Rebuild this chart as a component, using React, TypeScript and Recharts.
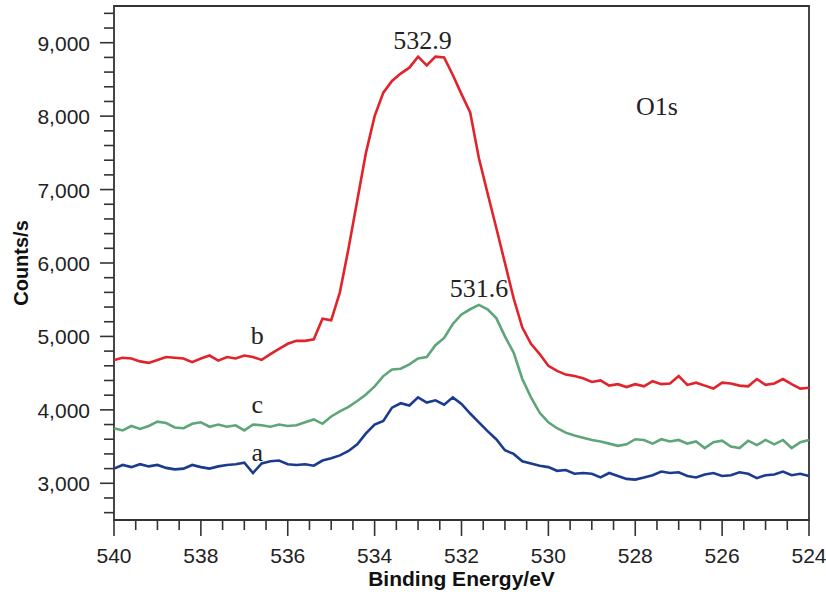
import React from "react";
import { LineChart, Line, XAxis, YAxis, ReferenceArea, ReferenceDot } from "recharts";

// Binding energy grid (eV), high to low as recorded
const energies = [
  540.0, 539.8, 539.6, 539.4, 539.2, 539.0, 538.8, 538.6, 538.4, 538.2,
  538.0, 537.8, 537.6, 537.4, 537.2, 537.0, 536.8, 536.6, 536.4, 536.2,
  536.0, 535.8, 535.6, 535.4, 535.2, 535.0, 534.8, 534.6, 534.4, 534.2,
  534.0, 533.8, 533.6, 533.4, 533.2, 533.0, 532.8, 532.6, 532.4, 532.2,
  532.0, 531.8, 531.6, 531.4, 531.2, 531.0, 530.8, 530.6, 530.4, 530.2,
  530.0, 529.8, 529.6, 529.4, 529.2, 529.0, 528.8, 528.6, 528.4, 528.2,
  528.0, 527.8, 527.6, 527.4, 527.2, 527.0, 526.8, 526.6, 526.4, 526.2,
  526.0, 525.8, 525.6, 525.4, 525.2, 525.0, 524.8, 524.6, 524.4, 524.2,
  524.0,
];

// counts/s for each sample
const countsA = [
  3200, 3250, 3220, 3260, 3230, 3250, 3210, 3190, 3200, 3250,
  3220, 3200, 3230, 3250, 3260, 3280, 3140, 3270, 3300, 3310,
  3260, 3250, 3260, 3240, 3310, 3340, 3380, 3440, 3530, 3680,
  3800, 3850, 4030, 4090, 4060, 4170, 4100, 4130, 4070, 4170,
  4080, 3950, 3830, 3710, 3600, 3450, 3400, 3300, 3270, 3240,
  3220, 3170, 3180, 3130, 3140, 3130, 3080, 3140, 3100, 3060,
  3050, 3080, 3110, 3160, 3140, 3150, 3100, 3080, 3120, 3140,
  3100, 3110, 3150, 3130, 3070, 3110, 3120, 3160, 3110, 3130,
  3100,
];

const countsB = [
  4680, 4710, 4700, 4660, 4640, 4680, 4720, 4710, 4700, 4650,
  4700, 4740, 4670, 4720, 4700, 4740, 4720, 4680, 4760, 4830,
  4900, 4940, 4940, 4960, 5240, 5220, 5600, 6200, 6850, 7500,
  8000, 8320, 8480, 8580, 8660, 8810, 8690, 8810, 8800, 8560,
  8300, 8050, 7430, 6950, 6480, 6000, 5520, 5120, 4900, 4760,
  4600, 4530, 4480, 4460, 4430, 4380, 4400, 4330, 4350, 4310,
  4350, 4320, 4390, 4350, 4360, 4460, 4340, 4370, 4330, 4290,
  4370, 4360, 4330, 4320, 4420, 4340, 4360, 4420, 4350, 4290,
  4300,
];

const countsC = [
  3750, 3720, 3780, 3740, 3780, 3840, 3820, 3760, 3750, 3810,
  3830, 3770, 3800, 3770, 3790, 3720, 3800, 3790, 3770, 3800,
  3780, 3790, 3830, 3870, 3810, 3910, 3980, 4040, 4120, 4210,
  4320, 4460, 4550, 4560, 4620, 4700, 4720, 4880, 4980, 5170,
  5300, 5370, 5430, 5370, 5250, 5000, 4780, 4420, 4170, 3960,
  3830, 3750, 3690, 3650, 3620, 3590, 3570, 3540, 3510, 3530,
  3600, 3590, 3540, 3600, 3570, 3590, 3540, 3570, 3480, 3560,
  3580, 3500, 3480, 3580, 3520, 3590, 3530, 3590, 3480, 3560,
  3590,
];

const xTicks = [
  540, 539.5, 539, 538.5, 538, 537.5, 537, 536.5, 536, 535.5, 535, 534.5,
  534, 533.5, 533, 532.5, 532, 531.5, 531, 530.5, 530, 529.5, 529, 528.5,
  528, 527.5, 527, 526.5, 526, 525.5, 525, 524.5, 524,
];

const yTicks = [
  2600, 2800, 3000, 3200, 3400, 3600, 3800, 4000, 4200, 4400, 4600, 4800,
  5000, 5200, 5400, 5600, 5800, 6000, 6200, 6400, 6600, 6800, 7000, 7200,
  7400, 7600, 7800, 8000, 8200, 8400, 8600, 8800, 9000, 9200, 9400,
];

const RED = "#e1232b";
const GREEN = "#5fa57a";
const BLUE = "#1b3b8e";
const AXIS = "#333333";
const SANS = "'Liberation Sans', Arial, sans-serif";
const SERIF = "'Liberation Serif', 'Times New Roman', serif";

const data = energies.map((e, i) => ({
  e,
  a: countsA[i],
  b: countsB[i],
  c: countsC[i],
}));

// Tick marks drawn by hand so majors and minors get different lengths
function XTick(props: any) {
  const { x, y, payload } = props;
  const v = payload.value as number;
  const major = Math.abs(v % 2) < 1e-6;
  return (
    <g>
      <line x1={x} y1={y} x2={x} y2={y + (major ? 16 : 10)} stroke={AXIS} strokeWidth={1.6} />
      {major && (
        <text x={x} y={y + 43} textAnchor="middle" fontSize={21} fontFamily={SANS} fill="#222">
          {v}
        </text>
      )}
    </g>
  );
}

function YTick(props: any) {
  const { x, y, payload } = props;
  const v = payload.value as number;
  const major = v % 1000 === 0;
  return (
    <g>
      <line x1={x} y1={y} x2={x - (major ? 14 : 10)} y2={y} stroke={AXIS} strokeWidth={1.6} />
      {major && (
        <text x={x - 24} y={y + 8} textAnchor="end" fontSize={21} fontFamily={SANS} fill="#222">
          {v.toLocaleString("en-US")}
        </text>
      )}
    </g>
  );
}

function Tag(props: any) {
  const { viewBox, text, dy = 0 } = props;
  return (
    <text
      x={viewBox.x}
      y={viewBox.y + dy}
      textAnchor="middle"
      fontSize={26}
      fontFamily={SERIF}
      fill="#222"
    >
      {text}
    </text>
  );
}

export default function App() {
  return (
    <div style={{ position: "absolute", left: 0, top: 0, width: 826, height: 592, background: "#fff" }}>
      <LineChart width={826} height={592} data={data} margin={{ top: 6, right: 17, left: 0, bottom: 0 }}>
        <XAxis
          dataKey="e"
          type="number"
          domain={[524, 540]}
          reversed
          ticks={xTicks}
          interval={0}
          tick={<XTick />}
          tickLine={false}
          tickSize={0}
          tickMargin={0}
          axisLine={false}
          height={72}
          label={{
            value: "Binding Energy/eV",
            position: "insideBottom",
            offset: 6,
            style: { fontFamily: SANS, fontSize: 21, fontWeight: 700, fill: "#111" },
          }}
        />
        <YAxis
          type="number"
          domain={[2500, 9500]}
          ticks={yTicks}
          interval={0}
          tick={<YTick />}
          tickLine={false}
          tickSize={0}
          tickMargin={0}
          axisLine={false}
          width={114}
          label={{
            value: "Counts/s",
            angle: -90,
            position: "insideLeft",
            offset: 21,
            style: { fontFamily: SANS, fontSize: 20, fontWeight: 700, fill: "#111", textAnchor: "middle" },
          }}
        />
        <ReferenceArea
          x1={540}
          x2={524}
          y1={2500}
          y2={9500}
          fill="none"
          stroke={AXIS}
          strokeWidth={1.8}
          ifOverflow="visible"
        />
        <Line type="linear" dataKey="a" stroke={BLUE} strokeWidth={2.6} dot={false} isAnimationActive={false} />
        <Line type="linear" dataKey="c" stroke={GREEN} strokeWidth={2.6} dot={false} isAnimationActive={false} />
        <Line type="linear" dataKey="b" stroke={RED} strokeWidth={2.6} dot={false} isAnimationActive={false} />

        <ReferenceDot x={532.9} y={8810} r={0} ifOverflow="visible" label={<Tag text="532.9" dy={-8} />} />
        <ReferenceDot x={531.6} y={5430} r={0} ifOverflow="visible" label={<Tag text="531.6" dy={-8} />} />
        <ReferenceDot x={527.5} y={8020} r={0} ifOverflow="visible" label={<Tag text="O1s" />} />
        <ReferenceDot x={536.7} y={4900} r={0} ifOverflow="visible" label={<Tag text="b" />} />
        <ReferenceDot x={536.7} y={3960} r={0} ifOverflow="visible" label={<Tag text="c" />} />
        <ReferenceDot x={536.7} y={3300} r={0} ifOverflow="visible" label={<Tag text="a" />} />
      </LineChart>
    </div>
  );
}
